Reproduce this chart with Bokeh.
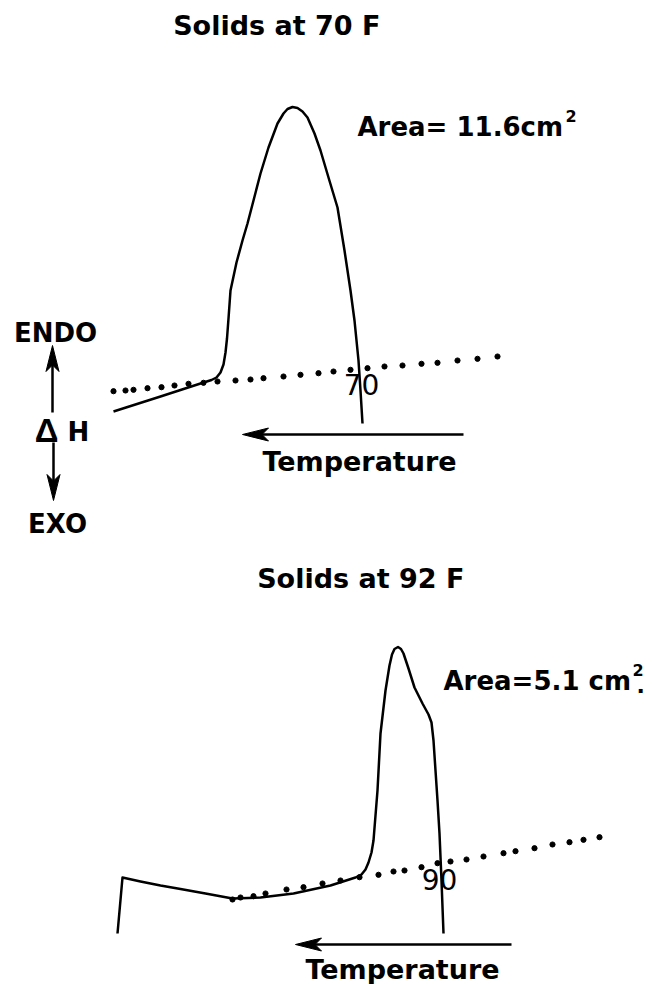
import math
from bokeh.plotting import figure
from bokeh.models import Range1d
from bokeh.embed import file_html
from bokeh.resources import INLINE
from bokeh.core.properties import value

# ---------------- data (recorder-trace units, y grows downward) ----------------
# Upper thermogram: solids at 70 F
top_curve_x = [113, 160, 200, 211, 216, 220, 223, 225, 226.5, 228, 230, 236, 242, 247, 253,
               260, 268, 277, 283, 287, 292, 297, 302, 307, 314, 320, 328, 337, 344, 350,
               354, 358, 360, 362]
top_curve_y = [411, 396, 383, 379.5, 377, 372, 364, 352, 338, 318, 290, 262, 240, 223, 200,
               173, 147, 123, 113, 108.5, 106.5, 107.5, 111, 117, 133, 150, 177, 207, 250,
               290, 320, 360, 390, 423]
top_base_x = [113, 125, 133, 147, 161, 174, 188, 203, 217, 235, 250, 263, 283, 300, 318,
              333, 350, 367, 384, 402, 421, 437, 457, 477, 497]
top_base_y = [390.7, 390, 389.3, 387.7, 386.7, 385, 383.3, 382.3, 381, 380, 379, 377.7, 376,
              374.3, 372.7, 371, 369.3, 367.7, 366, 365, 363.3, 362.3, 360, 358.3, 356]

# Lower thermogram: solids at 92 F
bot_curve_x = [117, 122, 140, 160, 180, 205, 232, 260, 293, 330, 355, 361, 365, 368, 371,
               373, 375, 377, 380, 385, 389, 391.5, 394, 397.5, 400.5, 403, 408, 414, 422,
               428, 431, 433, 435, 437, 439, 441, 443]
bot_curve_y = [933, 877, 881, 885, 888.5, 893, 898, 897, 893, 885, 877, 874, 869, 862, 852,
               840, 815, 790, 733, 690, 665, 654, 648.5, 646.5, 648.5, 653, 668, 687, 703,
               714, 722, 740, 770, 800, 833, 880, 933]
bot_base_x = [232, 240, 253, 265, 286, 303, 322, 340, 359, 378, 393, 404, 421, 437, 450,
              466, 483, 503, 515, 534, 552, 569, 583, 599]
bot_base_y = [899, 897, 895.7, 893, 889, 886.7, 883, 880, 876.7, 874.3, 871, 870, 866.7,
              862.7, 861, 859, 856, 852.7, 850.7, 847.7, 844, 841.7, 839.3, 836.7]

# Labels
titles = ["Solids at 70  F", "Solids at 92  F"]
title_x = [281, 365]
title_y = [25, 578]

area_text = ["Area= 11.6cm", "Area=5.1 cm"]
area_x = [357, 443]
area_y = [126, 680]
area_size = ["26px", "26px"]
sup_x = [565, 632]
sup_y = [115, 669]

temp_marks = ["70", "90"]
temp_mark_x = [361, 439]
temp_mark_y = [384, 879]

temp_label_x = [359, 402]
temp_label_y = [461, 969]

# "Temperature" arrows (tail -> tip)
tarrow_x0 = [463, 511]
tarrow_x1 = [242, 295]
tarrow_y = [434, 944]

# ENDO / EXO arrows (tail -> tip)
harrow_x = [52, 53]
harrow_y0 = [412, 442]
harrow_y1 = [345, 500]

FONT = value("DejaVu Sans")

# ---------------- figure ----------------
W, H = 652, 984
p = figure(width=W, height=H, x_range=Range1d(0, W), y_range=Range1d(H, 0),
           output_backend="svg", toolbar_location=None,
           x_axis_location=None, y_axis_location=None, min_border=0)
p.grid.visible = False
p.outline_line_color = None
p.background_fill_color = "white"
p.border_fill_color = "white"

# curves
p.line(top_curve_x, top_curve_y, line_color="black", line_width=2.5, line_join="round")
p.line(bot_curve_x, bot_curve_y, line_color="black", line_width=2.5, line_join="round")
# dotted baselines
p.scatter(top_base_x, top_base_y, size=5.2, color="black")
p.scatter(bot_base_x, bot_base_y, size=5.2, color="black")


def arrow(x0, y0, x1, y1, L=26, Wd=6.5):
    d = math.hypot(x1 - x0, y1 - y0)
    ux, uy = (x1 - x0) / d, (y1 - y0) / d
    nx, ny = -uy, ux
    bx, by = x1 - L * ux, y1 - L * uy
    kx, ky = x1 - 0.75 * L * ux, y1 - 0.75 * L * uy
    p.segment(x0=[x0], y0=[y0], x1=[kx], y1=[ky], line_color="black", line_width=2.5)
    p.patch([x1, bx + Wd * nx, kx, bx - Wd * nx], [y1, by + Wd * ny, ky, by - Wd * ny],
            fill_color="black", line_color="black", line_width=1)


for a, b, c in zip(tarrow_x0, tarrow_x1, tarrow_y):
    arrow(a, c, b, c)
for a, b, c in zip(harrow_x, harrow_y0, harrow_y1):
    arrow(a, b, a, c)

# texts
p.text(x=title_x, y=title_y, text=titles, text_font=FONT, text_font_size="27px",
       text_font_style="bold", text_align="center", text_baseline="middle", text_color="black")

for t, x, y, s in zip(area_text, area_x, area_y, area_size):
    p.text(x=[x], y=[y], text=[t], text_font=FONT, text_font_size=s, text_font_style="bold",
           text_align="left", text_baseline="middle", text_color="black")
p.text(x=sup_x, y=sup_y, text=["2", "2"], text_font=FONT, text_font_size="16px",
       text_font_style="bold", text_align="left", text_baseline="middle", text_color="black")
p.text(x=[636], y=[684], text=["."], text_font=FONT, text_font_size="22px",
       text_font_style="bold", text_align="left", text_baseline="middle", text_color="black")

p.text(x=temp_mark_x, y=temp_mark_y, text=temp_marks, text_font=FONT, text_font_size="28px",
       text_align="center", text_baseline="middle", text_color="black")

p.text(x=temp_label_x, y=temp_label_y, text=["Temperature", "Temperature"], text_font=FONT,
       text_font_size="27px", text_font_style="bold", text_align="center",
       text_baseline="middle", text_color="black")

p.text(x=[55, 57], y=[332, 523], text=["ENDO", "EXO"], text_font=FONT, text_font_size="26px",
       text_font_style="bold", text_align="center", text_baseline="middle", text_color="black")
p.text(x=[46], y=[430], text=["Δ"], text_font=value("Liberation Sans"), text_font_size="33px",
       text_font_style="bold", text_align="center", text_baseline="middle", text_color="black")
p.text(x=[78], y=[431], text=["H"], text_font=FONT, text_font_size="26px",
       text_font_style="bold", text_align="center", text_baseline="middle", text_color="black")

open("out.html", "w").write(file_html(p, INLINE))
